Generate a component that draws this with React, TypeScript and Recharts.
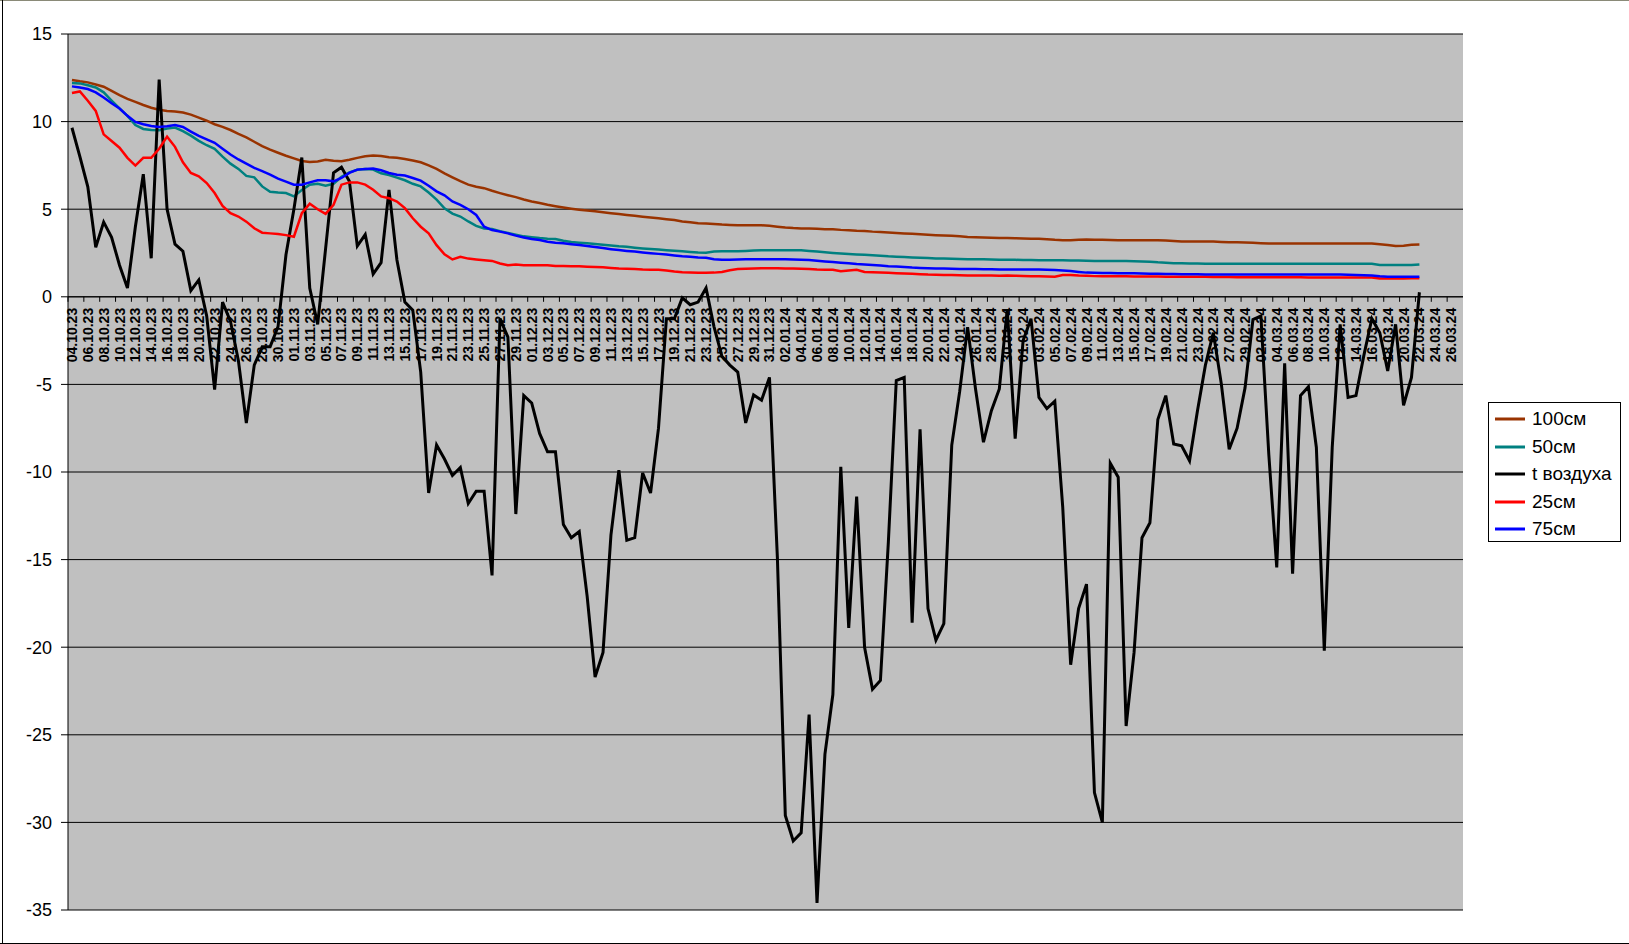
import React from 'react'
import { LineChart, Line, XAxis, YAxis, CartesianGrid, ReferenceLine } from 'recharts'

// daily categories 04.10.23 .. 27.03.24
const dates = [
  '04.10.23', '05.10.23', '06.10.23', '07.10.23', '08.10.23', '09.10.23', '10.10.23', '11.10.23', '12.10.23', '13.10.23',
  '14.10.23', '15.10.23', '16.10.23', '17.10.23', '18.10.23', '19.10.23', '20.10.23', '21.10.23', '22.10.23', '23.10.23',
  '24.10.23', '25.10.23', '26.10.23', '27.10.23', '28.10.23', '29.10.23', '30.10.23', '31.10.23',
  '01.11.23', '02.11.23', '03.11.23', '04.11.23', '05.11.23', '06.11.23', '07.11.23', '08.11.23', '09.11.23', '10.11.23',
  '11.11.23', '12.11.23', '13.11.23', '14.11.23', '15.11.23', '16.11.23', '17.11.23', '18.11.23', '19.11.23', '20.11.23',
  '21.11.23', '22.11.23', '23.11.23', '24.11.23', '25.11.23', '26.11.23', '27.11.23', '28.11.23', '29.11.23', '30.11.23',
  '01.12.23', '02.12.23', '03.12.23', '04.12.23', '05.12.23', '06.12.23', '07.12.23', '08.12.23', '09.12.23', '10.12.23',
  '11.12.23', '12.12.23', '13.12.23', '14.12.23', '15.12.23', '16.12.23', '17.12.23', '18.12.23', '19.12.23', '20.12.23',
  '21.12.23', '22.12.23', '23.12.23', '24.12.23', '25.12.23', '26.12.23', '27.12.23', '28.12.23', '29.12.23', '30.12.23', '31.12.23',
  '01.01.24', '02.01.24', '03.01.24', '04.01.24', '05.01.24', '06.01.24', '07.01.24', '08.01.24', '09.01.24', '10.01.24',
  '11.01.24', '12.01.24', '13.01.24', '14.01.24', '15.01.24', '16.01.24', '17.01.24', '18.01.24', '19.01.24', '20.01.24',
  '21.01.24', '22.01.24', '23.01.24', '24.01.24', '25.01.24', '26.01.24', '27.01.24', '28.01.24', '29.01.24', '30.01.24', '31.01.24',
  '01.02.24', '02.02.24', '03.02.24', '04.02.24', '05.02.24', '06.02.24', '07.02.24', '08.02.24', '09.02.24', '10.02.24',
  '11.02.24', '12.02.24', '13.02.24', '14.02.24', '15.02.24', '16.02.24', '17.02.24', '18.02.24', '19.02.24', '20.02.24',
  '21.02.24', '22.02.24', '23.02.24', '24.02.24', '25.02.24', '26.02.24', '27.02.24', '28.02.24', '29.02.24',
  '01.03.24', '02.03.24', '03.03.24', '04.03.24', '05.03.24', '06.03.24', '07.03.24', '08.03.24', '09.03.24', '10.03.24',
  '11.03.24', '12.03.24', '13.03.24', '14.03.24', '15.03.24', '16.03.24', '17.03.24', '18.03.24', '19.03.24', '20.03.24',
  '21.03.24', '22.03.24', '23.03.24', '24.03.24', '25.03.24', '26.03.24', '27.03.24',
]

const soil100 = [
  12.38, 12.3, 12.24, 12.12, 11.99, 11.75, 11.51, 11.3, 11.13, 10.95, 10.79, 10.68, 10.61, 10.58, 10.52, 10.4, 10.23, 10.05, 9.85, 9.7,
  9.52, 9.3, 9.1, 8.85, 8.6, 8.4, 8.22, 8.05, 7.9, 7.75, 7.7, 7.72, 7.82, 7.76, 7.74, 7.82, 7.93, 8.02, 8.07, 8.03,
  7.97, 7.93, 7.87, 7.78, 7.68, 7.5, 7.3, 7.05, 6.82, 6.6, 6.4, 6.28, 6.2, 6.05, 5.92, 5.8, 5.69, 5.55, 5.44, 5.35,
  5.25, 5.17, 5.1, 5.03, 4.97, 4.92, 4.88, 4.82, 4.77, 4.72, 4.67, 4.62, 4.57, 4.52, 4.48, 4.43, 4.38, 4.3, 4.25, 4.2,
  4.18, 4.15, 4.12, 4.1, 4.08, 4.08, 4.08, 4.08, 4.05, 4.0, 3.95, 3.92, 3.9, 3.9, 3.88, 3.86, 3.85, 3.82, 3.8, 3.77,
  3.75, 3.72, 3.7, 3.67, 3.64, 3.62, 3.6, 3.57, 3.54, 3.52, 3.5, 3.48, 3.45, 3.42, 3.4, 3.38, 3.37, 3.36, 3.35, 3.34,
  3.33, 3.32, 3.31, 3.28, 3.25, 3.23, 3.23, 3.25, 3.27, 3.26, 3.25, 3.24, 3.23, 3.23, 3.23, 3.23, 3.23, 3.23, 3.22, 3.18,
  3.15, 3.15, 3.15, 3.15, 3.15, 3.13, 3.12, 3.11, 3.1, 3.08, 3.06, 3.04, 3.04, 3.04, 3.04, 3.04, 3.04, 3.04, 3.04, 3.04,
  3.04, 3.04, 3.04, 3.04, 3.04, 3.0, 2.95, 2.9, 2.92, 2.97, 2.98,
]

const soil50 = [
  12.2, 12.18, 12.07, 11.95, 11.67, 11.2, 10.75, 10.33, 9.8, 9.58, 9.52, 9.5, 9.6, 9.66, 9.45, 9.2, 8.9, 8.65, 8.45, 8.0,
  7.6, 7.3, 6.9, 6.82, 6.3, 6.0, 5.95, 5.92, 5.73, 6.1, 6.4, 6.45, 6.34, 6.45, 6.85, 7.1, 7.25, 7.3, 7.26, 7.05,
  6.95, 6.8, 6.65, 6.45, 6.3, 5.95, 5.55, 5.05, 4.75, 4.58, 4.3, 4.05, 3.9, 3.87, 3.75, 3.65, 3.55, 3.45, 3.4, 3.35,
  3.32, 3.3, 3.2, 3.13, 3.09, 3.05, 3.01, 2.97, 2.93, 2.88, 2.85, 2.8, 2.76, 2.73, 2.7, 2.66, 2.63, 2.6, 2.56, 2.53,
  2.52, 2.58, 2.6, 2.6, 2.6, 2.62, 2.64, 2.65, 2.65, 2.65, 2.65, 2.65, 2.65, 2.62, 2.58, 2.54, 2.5, 2.47, 2.44, 2.42,
  2.4, 2.37, 2.34, 2.31, 2.29, 2.27, 2.25, 2.23, 2.21, 2.19, 2.18, 2.17, 2.16, 2.15, 2.14, 2.14, 2.13, 2.12, 2.12, 2.11,
  2.1, 2.1, 2.09, 2.09, 2.08, 2.08, 2.07, 2.07, 2.06, 2.05, 2.05, 2.04, 2.04, 2.04, 2.03, 2.02, 2.0, 1.97, 1.95, 1.92,
  1.91, 1.9, 1.9, 1.89, 1.89, 1.88, 1.88, 1.88, 1.88, 1.88, 1.88, 1.88, 1.88, 1.88, 1.88, 1.88, 1.88, 1.88, 1.88, 1.88,
  1.88, 1.88, 1.88, 1.88, 1.88, 1.82, 1.81, 1.81, 1.81, 1.82, 1.85,
]

const airTemp = [
  9.65, 8.0, 6.28, 2.82, 4.26, 3.4, 1.8, 0.5, 4.0, 7.0, 2.2, 12.4, 5.0, 3.0, 2.6, 0.35, 0.96, -1.1, -5.3, -0.3,
  -1.4, -3.65, -7.2, -3.9, -2.85, -2.85, -1.7, 2.4, 5.0, 7.95, 0.5, -1.57, 2.75, 7.08, 7.4, 6.6, 2.9, 3.55, 1.3, 1.95,
  6.1, 2.1, -0.3, -0.77, -4.3, -11.2, -8.46, -9.26, -10.2, -9.74, -11.8, -11.1, -11.1, -15.9, -1.25, -2.3, -12.4, -5.64, -6.06, -7.8,
  -8.85, -8.85, -13.0, -13.75, -13.4, -17.1, -21.7, -20.3, -13.6, -9.9, -13.9, -13.75, -10.06, -11.2, -7.5, -1.25, -1.25, -0.06, -0.45, -0.3,
  0.5, -1.7, -3.4, -3.9, -4.3, -7.2, -5.6, -5.9, -4.6, -14.9, -29.6, -31.06, -30.6, -23.85, -34.6, -26.1, -22.7, -9.7, -18.9, -11.4,
  -20.0, -22.4, -21.9, -14.0, -4.78, -4.6, -18.6, -7.56, -17.8, -19.6, -18.65, -8.46, -5.4, -1.73, -5.26, -8.3, -6.5, -5.26, -0.7, -8.1,
  -2.5, -1.25, -5.74, -6.38, -5.96, -12.0, -21.0, -17.8, -16.4, -28.3, -30.0, -9.5, -10.3, -24.5, -20.3, -13.75, -12.9, -7.0, -5.64, -8.4,
  -8.5, -9.36, -6.5, -3.9, -2.05, -4.94, -8.7, -7.5, -5.2, -1.3, -1.1, -9.0, -15.45, -3.8, -15.8, -5.64, -5.13, -8.6, -20.2, -8.6,
  -1.57, -5.74, -5.64, -3.33, -1.25, -2.05, -4.23, -1.57, -6.2, -4.6, 0.26,
]

const soil25 = [
  11.63, 11.72, 11.19, 10.61, 9.27, 8.89, 8.51, 7.93, 7.49, 7.93, 7.93, 8.45, 9.14, 8.56, 7.68, 7.07, 6.88, 6.49, 5.92, 5.19,
  4.77, 4.58, 4.29, 3.91, 3.66, 3.62, 3.58, 3.52, 3.43, 4.77, 5.31, 5.0, 4.73, 5.25, 6.4, 6.53, 6.53, 6.4, 6.11, 5.73,
  5.63, 5.44, 5.06, 4.48, 4.0, 3.62, 2.95, 2.43, 2.13, 2.28, 2.18, 2.13, 2.09, 2.05, 1.9, 1.8, 1.84, 1.8, 1.8, 1.8,
  1.8, 1.76, 1.76, 1.75, 1.74, 1.72, 1.7, 1.68, 1.65, 1.62, 1.6, 1.58, 1.56, 1.55, 1.54, 1.5, 1.44, 1.4, 1.38, 1.37,
  1.37, 1.38, 1.42, 1.52, 1.58, 1.6, 1.62, 1.63, 1.63, 1.63, 1.62, 1.61, 1.6, 1.58, 1.56, 1.55, 1.54, 1.46, 1.5, 1.54,
  1.42, 1.4, 1.38, 1.37, 1.35, 1.33, 1.31, 1.29, 1.27, 1.26, 1.25, 1.24, 1.23, 1.22, 1.21, 1.21, 1.21, 1.2, 1.21, 1.2,
  1.19, 1.18, 1.17, 1.16, 1.15, 1.24, 1.25, 1.22, 1.2, 1.18, 1.17, 1.17, 1.17, 1.17, 1.16, 1.16, 1.16, 1.16, 1.15, 1.15,
  1.15, 1.15, 1.14, 1.14, 1.13, 1.13, 1.13, 1.12, 1.12, 1.12, 1.12, 1.12, 1.11, 1.11, 1.11, 1.11, 1.1, 1.1, 1.1, 1.1,
  1.1, 1.1, 1.1, 1.1, 1.1, 1.04, 1.04, 1.05, 1.05, 1.06, 1.06,
]

const soil75 = [
  12.01, 11.95, 11.86, 11.67, 11.38, 11.05, 10.75, 10.33, 9.98, 9.85, 9.75, 9.69, 9.73, 9.81, 9.69, 9.43, 9.18, 8.98, 8.79, 8.45,
  8.12, 7.84, 7.6, 7.36, 7.17, 6.97, 6.74, 6.57, 6.4, 6.4, 6.53, 6.65, 6.65, 6.59, 6.78, 7.07, 7.26, 7.3, 7.32, 7.22,
  7.07, 6.97, 6.92, 6.78, 6.63, 6.34, 6.02, 5.79, 5.44, 5.25, 5.0, 4.67, 4.0, 3.81, 3.72, 3.62, 3.49, 3.39, 3.3, 3.24,
  3.14, 3.08, 3.05, 3.0, 2.95, 2.9, 2.84, 2.78, 2.72, 2.67, 2.62, 2.58, 2.53, 2.49, 2.45, 2.41, 2.36, 2.31, 2.28, 2.25,
  2.23, 2.14, 2.12, 2.12, 2.13, 2.14, 2.15, 2.15, 2.15, 2.15, 2.14, 2.13, 2.12, 2.1, 2.06, 2.02, 1.98, 1.95, 1.91, 1.87,
  1.85, 1.82, 1.78, 1.75, 1.73, 1.7, 1.67, 1.65, 1.63, 1.62, 1.61, 1.6, 1.59, 1.58, 1.58, 1.57, 1.57, 1.56, 1.56, 1.56,
  1.56, 1.56, 1.56, 1.55, 1.53, 1.5, 1.47, 1.42, 1.38, 1.37, 1.36, 1.36, 1.35, 1.35, 1.34, 1.33, 1.32, 1.31, 1.3, 1.3,
  1.29, 1.29, 1.28, 1.27, 1.27, 1.27, 1.27, 1.27, 1.27, 1.27, 1.27, 1.27, 1.27, 1.27, 1.27, 1.27, 1.27, 1.27, 1.27, 1.27,
  1.27, 1.26, 1.25, 1.23, 1.21, 1.17, 1.15, 1.15, 1.15, 1.15, 1.15,
]

const yTicks = [-35, -30, -25, -20, -15, -10, -5, 0, 5, 10, 15]

const series = [
  { key: 'c100', name: '100см', color: '#993300', values: soil100, width: 2.5 },
  { key: 'c50', name: '50см', color: '#008080', values: soil50, width: 2.5 },
  { key: 'air', name: 't воздуха', color: '#000000', values: airTemp, width: 3 },
  { key: 'c25', name: '25см', color: '#FF0000', values: soil25, width: 2.5 },
  { key: 'c75', name: '75см', color: '#0000FF', values: soil75, width: 2.5 },
]

const data = dates.map((d, i) => {
  const row: Record<string, string | number | undefined> = { date: d }
  series.forEach(s => { row[s.key] = s.values[i] })
  return row
})

const W = 1629
const H = 944
const PLOT_LEFT = 68
const PLOT_TOP = 34
const PLOT_RIGHT = 1463
const PLOT_BOTTOM = 910
const Y_MIN = -35
const Y_MAX = 15
const PLOT_W = PLOT_RIGHT - PLOT_LEFT
const PLOT_H = PLOT_BOTTOM - PLOT_TOP
const HALF_BAND = PLOT_W / dates.length / 2
const ZERO_Y = PLOT_TOP + PLOT_H * Y_MAX / (Y_MAX - Y_MIN)
const FONT = '"Liberation Sans", Arial, sans-serif'

// date labels hang below the zero line, like the Excel axis crossing at 0
function DateTick(props: any) {
  const { x, payload } = props
  const ty = ZERO_Y + 11
  return (
    <g>
      <line x1={x - HALF_BAND} x2={x - HALF_BAND} y1={ZERO_Y} y2={ZERO_Y + 5} stroke="#000" />
      <text
        x={x}
        y={ty}
        transform={`rotate(-90 ${x} ${ty})`}
        textAnchor="end"
        dy="0.36em"
        fontSize={14}
        fontWeight="bold"
        fontFamily={FONT}
        fill="#000"
      >
        {payload.value}
      </text>
    </g>
  )
}

function ChartLegend() {
  return (
    <div
      style={{
        position: 'absolute',
        left: 1488,
        top: 402,
        width: 133,
        height: 140,
        border: '1px solid #000',
        background: '#fff',
        boxSizing: 'border-box',
        fontFamily: FONT,
        fontSize: 19,
      }}
    >
      {series.map((s, i) => (
        <div
          key={s.key}
          style={{ position: 'absolute', left: 0, top: 2 + i * 27.6, height: 28, display: 'flex', alignItems: 'center' }}
        >
          <svg width={43} height={28} style={{ display: 'block' }}>
            <line x1={6} x2={36} y1={14} y2={14} stroke={s.color} strokeWidth={3} />
          </svg>
          <span style={{ whiteSpace: 'nowrap', color: '#000' }}>{s.name}</span>
        </div>
      ))}
    </div>
  )
}

export default function App() {
  return (
    <div style={{ position: 'absolute', left: 0, top: 0, width: W, height: H, background: '#fff', overflow: 'hidden' }}>
      <div style={{ position: 'absolute', left: 0, top: 0, width: W, height: 1, background: '#8a8a78' }} />
      <div style={{ position: 'absolute', left: 2, top: 0, width: 1, height: H, background: '#000' }} />
      <div style={{ position: 'absolute', left: 0, top: H - 1, width: W, height: 1, background: '#000' }} />
      <LineChart
        width={W}
        height={H}
        data={data}
        margin={{ top: PLOT_TOP, right: W - PLOT_RIGHT, bottom: 0, left: 0 }}
      >
        <CartesianGrid vertical={false} stroke="#000" fill="#C0C0C0" fillOpacity={1} />
        <XAxis
          dataKey="date"
          interval={1}
          height={H - PLOT_BOTTOM}
          axisLine={false}
          tickLine={false}
          tick={<DateTick />}
          padding={{ left: HALF_BAND, right: HALF_BAND }}
        />
        <YAxis
          width={PLOT_LEFT}
          domain={[Y_MIN, Y_MAX]}
          ticks={yTicks}
          allowDataOverflow
          axisLine={{ stroke: '#000' }}
          tickLine={{ stroke: '#000' }}
          tickSize={7}
          tickMargin={9}
          tick={{ fill: '#000', fontSize: 18, fontFamily: FONT }}
        />
        <YAxis
          yAxisId="r"
          orientation="right"
          width={0}
          domain={[Y_MIN, Y_MAX]}
          tick={false}
          tickLine={false}
          axisLine={{ stroke: '#808080' }}
        />
        <ReferenceLine y={0} stroke="#000" strokeWidth={1} />
        {series.map(s => (
          <Line
            key={s.key}
            type="linear"
            dataKey={s.key}
            name={s.name}
            stroke={s.color}
            strokeWidth={s.width}
            dot={false}
            activeDot={false}
            isAnimationActive={false}
          />
        ))}
      </LineChart>
      <ChartLegend />
    </div>
  )
}
